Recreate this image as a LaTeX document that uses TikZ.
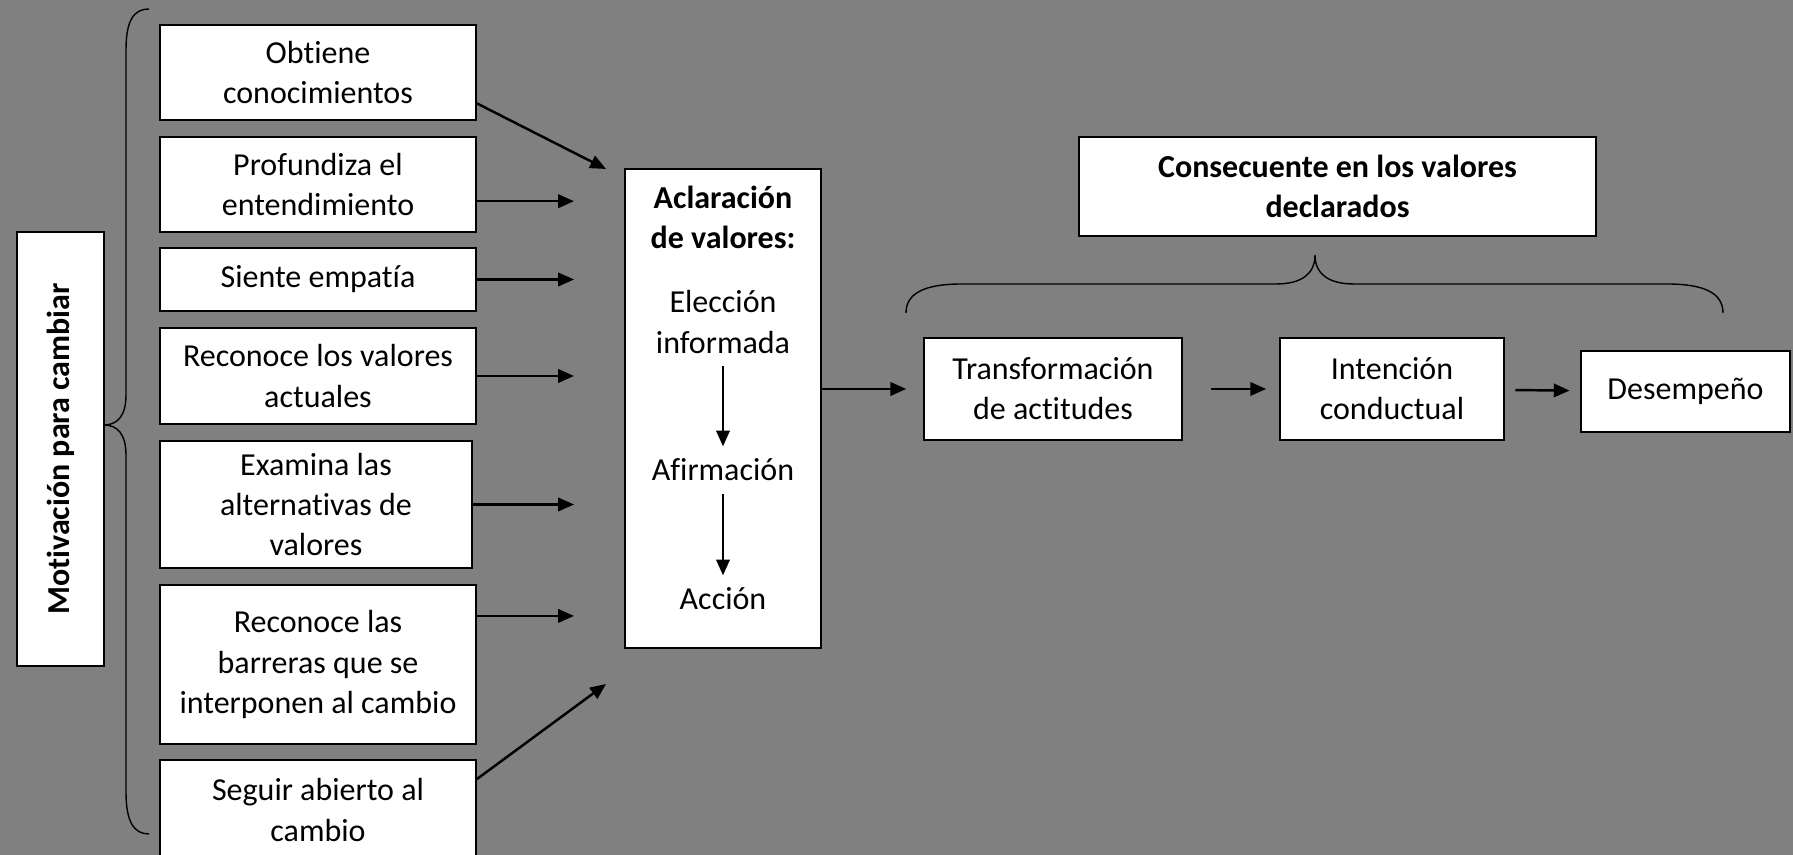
\documentclass[tikz,border=0pt]{standalone}
\usepackage{fontspec}
\setmainfont{Carlito}[Ligatures=NoCommon]
\usetikzlibrary{arrows.meta}
\definecolor{fondo}{RGB}{128,128,128}

\begin{document}
\begin{tikzpicture}[x=0.01cm,y=0.01cm]
\tikzset{bx/.style={draw, fill=white, line width=0.45pt, align=center, inner sep=2pt, font=\fontsize{9.1}{11.4}\selectfont},
bf/.style={font=\fontsize{9.1}{11.4}\selectfont\bfseries},
lb/.style={align=center, font=\fontsize{9.1}{11.4}\selectfont},
ar/.style={-{Triangle[length=4.5pt,width=3.8pt]}, line width=0.7pt}};
\clip (0,0) rectangle (1793,855);
\fill [fondo] (0,0) rectangle (1793,855);
\node [bx, bf, rotate=90, minimum width=4.34cm, minimum height=.87cm] (mot) at (60.5,406) {Motivación para cambiar};
\node [bx, minimum width=3.16cm, minimum height=.95cm] (b1) at (318,782.5) {Obtiene\\conocimientos};
\node [bx, minimum width=3.16cm, minimum height=.95cm] (b2) at (318,670.5) {Profundiza el\\entendimiento};
\node [bx, minimum width=3.16cm, minimum height=.63cm] (b3) at (318,575.5) {Siente empatía};
\node [bx, minimum width=3.16cm, minimum height=.96cm] (b4) at (318,479) {Reconoce los valores\\actuales};
\node [bx, minimum width=3.12cm, minimum height=1.27cm] (b5) at (316,350.5) {Examina las\\alternativas de\\valores};
\node [bx, minimum width=3.16cm, minimum height=1.59cm] (b6) at (318,190.5) {Reconoce las\\barreras que se\\interponen al cambio};
\node [bx, minimum width=3.16cm, minimum height=1cm] (b7) at (318,45) {Seguir abierto al\\cambio};
\node [bx, minimum width=1.96cm, minimum height=4.79cm] (ac) at (723,446.5) {};
\node [lb, bf] (tit) at (723,637.5) {Aclaración\\de valores:};
\node [lb] (ele) at (723,533) {Elección\\informada};
\node [lb] (afi) at (723,385) {Afirmación};
\node [lb] (acc) at (723,256) {Acción};
\node [bx, minimum width=2.58cm, minimum height=1.02cm] (tr) at (1053,466) {Transformación\\de actitudes};
\node [bx, minimum width=2.24cm, minimum height=1.02cm] (inn) at (1392,466) {Intención\\conductual};
\node [bx, minimum width=2.09cm, minimum height=.81cm] (des) at (1685.5,463.4) {Desempeño};
\node [bx, bf, minimum width=5.17cm, minimum height=.99cm] (con) at (1337.5,668.5) {Consecuente en los valores\\declarados};
\coordinate (ex) at (574,0);
\coordinate (t1) at (606,686);
\coordinate (t7) at (606,171);
\draw [ar] (b1.-11) -- (t1);
\draw [ar] (b2.-6) -- (b2.-6 -| ex);
\draw [ar] (b3) -- (b3 -| ex);
\draw [ar] (b4) -- (b4 -| ex);
\draw [ar] (b5) -- (b5 -| ex);
\draw [ar] (b6.17) -- (b6.17 -| ex);
\draw [ar] (b7.11) -- (t7);
\draw [ar] (ele) -- (afi);
\draw [ar] (afi) -- (acc);
\draw [ar, shorten >=4.8pt] (ac.east |- tr) -- (tr);
\draw [ar, shorten <=8pt, shorten >=3.7pt] (tr) -- (inn);
\draw [ar, shorten <=3pt, shorten >=3pt] (inn) -- (des);
\draw [line width=0.4pt] (149,846) .. controls (134,846) and (126,835) .. (126,805) -- (126,460) .. controls (126,440) and (118,430) .. (104,430) .. controls (118,430) and (126,420) .. (126,400) -- (126,63) .. controls (126,33) and (134,21) .. (149,21);
\draw [line width=0.4pt] (906,542) .. controls (906,562) and (925,571) .. (962,571) -- (1276,571) .. controls (1300,571) and (1315,580) .. (1315,600) .. controls (1315,580) and (1330,571) .. (1354,571) -- (1667,571) .. controls (1704,571) and (1723,562) .. (1723,542);
\end{tikzpicture}
\end{document}
